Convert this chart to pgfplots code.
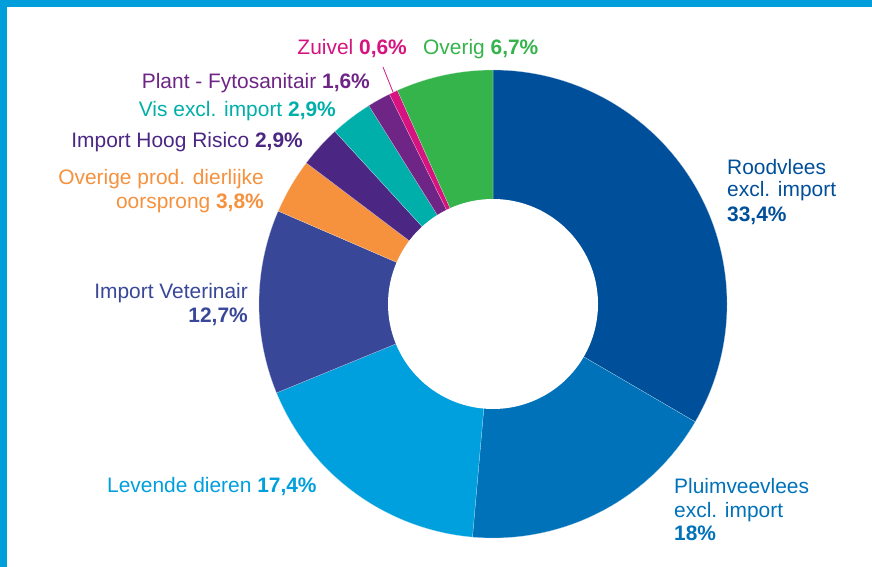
\documentclass[border=0pt]{standalone}
\usepackage{pgfplots}
\usepackage{pgfplotstable}
\pgfplotsset{compat=1.18}
\usepackage{fontspec}
\setmainfont{Liberation Sans}

\definecolor{cRood}{HTML}{004F9A}
\definecolor{cPluim}{HTML}{0072BA}
\definecolor{cLev}{HTML}{009FDE}
\definecolor{cVet}{HTML}{394799}
\definecolor{cOvp}{HTML}{F6913D}
\definecolor{cHoog}{HTML}{4B2783}
\definecolor{cVis}{HTML}{00AFAA}
\definecolor{cPlant}{HTML}{6E2585}
\definecolor{cZuiv}{HTML}{D7137F}
\definecolor{cOverig}{HTML}{35B44B}
\definecolor{frame}{HTML}{009EDB}

% shares in percent, clockwise from the top
\pgfplotstableread{
share col
33.4  cRood
18.0  cPluim
17.4  cLev
12.7  cVet
3.8   cOvp
2.9   cHoog
2.9   cVis
1.6   cPlant
0.6   cZuiv
6.7   cOverig
}\slices

\begin{document}
\begin{tikzpicture}
\begin{axis}[
  width=872bp, height=567bp,
  scale only axis,
  hide axis,
  clip=false,
  xmin=0, xmax=872, ymin=0, ymax=567,
  enlargelimits=false,
]
  \fill[white] (axis cs:0,0) rectangle (axis cs:872,567);
  \fill[frame] (axis cs:0,560) rectangle (axis cs:872,567);
  \fill[frame] (axis cs:0,0) rectangle (axis cs:7,567);

  \pgfmathsetmacro\acc{90}
  \pgfplotsforeachungrouped \i in {0,...,9}{
    \pgfplotstablegetelem{\i}{share}\of\slices \let\s\pgfplotsretval
    \pgfplotstablegetelem{\i}{col}\of\slices \let\c\pgfplotsretval
    \pgfmathsetmacro\aend{\acc-3.6*\s}
    \edef\doit{\noexpand\addplot[fill=\c, draw=white!70!\c, line width=0.2pt,
      domain=\aend:\acc, samples=120]
      ({493+234*cos(x)},{263+234*sin(x)}) -- (axis cs:493,263) -- cycle;}
    \doit
    \global\let\acc\aend
  }
  % hole
  \addplot[fill=white, draw=none, domain=0:360, samples=180]
    ({493+105*cos(x)},{263+105*sin(x)}) -- cycle;

  \draw[cZuiv, line width=0.8pt] (axis cs:383,500) -- (axis cs:393,475);

  \begin{scope}[every node/.style={inner sep=0pt, font=\fontsize{21}{23}\selectfont}]
    \node[anchor=base east, text=cZuiv] at (axis cs:407,512) {Zuivel \textbf{0,6\%}};
    \node[anchor=base west, text=cOverig] at (axis cs:423,512) {Overig \textbf{6,7\%}};
    \node[anchor=base east, text=cPlant] at (axis cs:370,478) {Plant - Fytosanitair \textbf{1,6\%}};
    \node[anchor=base east, text=cVis] at (axis cs:336,450) {Vis excl. import \textbf{2,9\%}};
    \node[anchor=base east, text=cHoog] at (axis cs:303,419) {Import Hoog Risico \textbf{2,9\%}};
    \node[anchor=base east, text=cOvp] at (axis cs:264,382) {Overige prod. dierlijke};
    \node[anchor=base east, text=cOvp] at (axis cs:264,358) {oorsprong \textbf{3,8\%}};
    \node[anchor=base east, text=cVet] at (axis cs:248,268) {Import Veterinair};
    \node[anchor=base east, text=cVet] at (axis cs:248,244) {\textbf{12,7\%}};
    \node[anchor=base west, text=cLev] at (axis cs:107,74) {Levende dieren \textbf{17,4\%}};
    \node[anchor=base west, text=cPluim] at (axis cs:674,73) {Pluimveevlees};
    \node[anchor=base west, text=cPluim] at (axis cs:674,49) {excl. import};
    \node[anchor=base west, text=cPluim] at (axis cs:674,27) {\textbf{18\%}};
    \node[anchor=base west, text=cRood] at (axis cs:727,392) {Roodvlees};
    \node[anchor=base west, text=cRood] at (axis cs:727,370) {excl. import};
    \node[anchor=base west, text=cRood] at (axis cs:727,345) {\textbf{33,4\%}};
  \end{scope}
\end{axis}
\end{tikzpicture}
\end{document}
